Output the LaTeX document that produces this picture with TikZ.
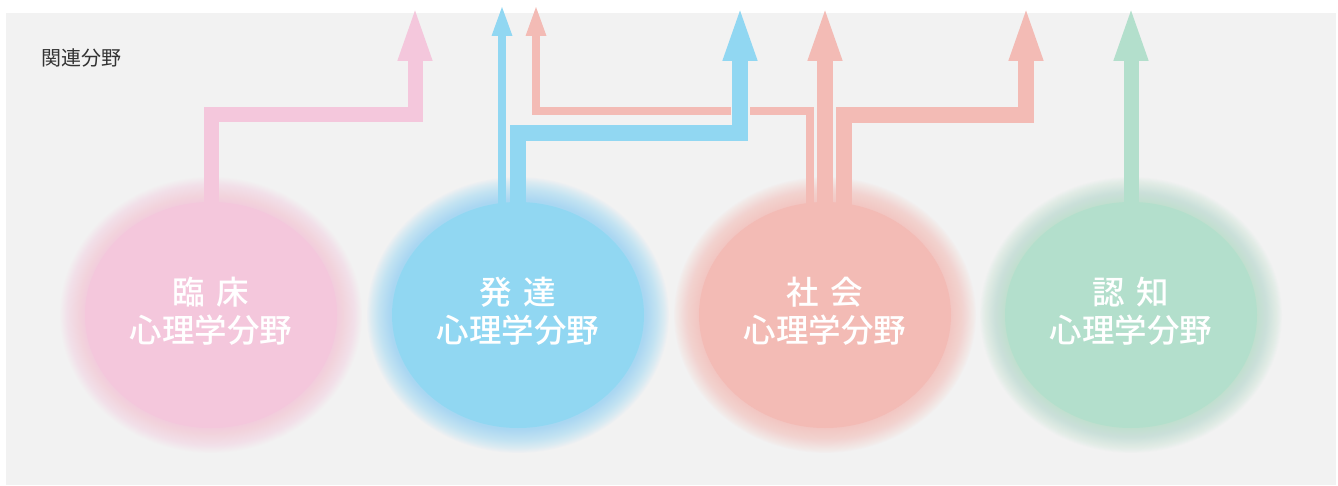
\documentclass[tikz,border=0pt]{standalone}
\usepackage{fontspec}
\newfontfamily\jp{Noto Sans CJK JP}
\newfontfamily\jpm{Noto Sans CJK JP Medium}
\usetikzlibrary{arrows.meta,shapes.geometric}
\definecolor{bg}{HTML}{F2F2F2}
\definecolor{pinkc}{RGB}{244,199,220}
\definecolor{bluec}{RGB}{145,215,242}
\definecolor{redc}{RGB}{243,187,181}
\definecolor{greenc}{RGB}{179,223,204}
\definecolor{tc}{HTML}{333333}
\pgfdeclarelayer{glowlayer}
\pgfdeclarelayer{arrowlayer}
\pgfsetlayers{glowlayer,arrowlayer,main}
\tikzset{
  field/.style={ellipse, minimum width=252pt, minimum height=226pt, inner sep=0pt, draw=none},
  lbl/.style={text=white, align=center, inner sep=0pt,
    font=\jpm\fontsize{32.5}{38}\selectfont},
  bigarr/.style={line width=16pt, line join=miter, -{Triangle[width=30pt,length=57pt]}},
  thinarr/.style={line width=8pt, line join=miter, -{Triangle[width=18pt,length=32pt]}},
}
\begin{document}
\begin{tikzpicture}[x=1pt,y=-1pt]
\useasboundingbox (0,0) rectangle (1338,486);
% fields
\node[field, fill=pinkc] (rin) at (211,315) {};
\node[field, fill=bluec] (hat) at (518,315) {};
\node[field, fill=redc] (sha) at (825,315) {};
\node[field, fill=greenc] (nin) at (1131,315) {};
\node[lbl] (rin-t) at ([yshift=4pt]rin.center) {臨\hspace{0.35em}床\\心理学分野};
\node[lbl] (hat-t) at ([yshift=4pt]hat.center) {発\hspace{0.35em}達\\心理学分野};
\node[lbl] (sha-t) at ([yshift=4pt]sha.center) {社\hspace{0.35em}会\\心理学分野};
\node[lbl] (nin-t) at ([yshift=4pt]nin.center) {認\hspace{0.35em}知\\心理学分野};
\node[anchor=west, inner sep=0pt, text=tc, font=\jp\fontsize{20}{20}\selectfont] (title) at (41,58) {関連分野};
% arrow targets
\coordinate (tp) at (415,4);
\coordinate (tb1) at (502,4);
\coordinate (tr1) at (536,4);
\coordinate (tb2) at (740,4);
\coordinate (tr2) at (825,4);
\coordinate (tr3) at (1026,4);
\coordinate (tg) at (1131,4);
\begin{pgfonlayer}{glowlayer}
\fill[bg] (6,13) rectangle (1336,485);
\foreach \n/\c in {rin/pinkc,hat/bluec,sha/redc,nin/greenc}{
  \foreach \i in {1,...,30}{
    \fill[\c, opacity=0.04] (\n.center) ellipse [x radius={124+0.9*\i}, y radius={111+0.9*\i}];
  }
}
\end{pgfonlayer}
\begin{pgfonlayer}{arrowlayer}
% pink
\draw[bigarr, draw=pinkc, line width=15pt] (rin.center) |- (415,115) -- (tp);
% red
\draw[thinarr, draw=redc] ([xshift=-15pt]sha.center) |- (536,111) -- (tr1);
\draw[bigarr, draw=redc] (sha.center) -- (tr2);
\draw[bigarr, draw=redc] ([xshift=19pt]sha.center) |- (1026,115) -- (tr3);
% gap at crossing
\draw[bg, line width=19pt] (740,100) -- (740,123);
% blue
\draw[thinarr, draw=bluec] ([xshift=-16pt]hat.center) -- (tb1);
\draw[bigarr, draw=bluec] (hat.center) |- (740,133) -- (tb2);
% green
\draw[bigarr, draw=greenc, line width=15pt] (nin.center) -- (tg);
\end{pgfonlayer}
\end{tikzpicture}
\end{document}
